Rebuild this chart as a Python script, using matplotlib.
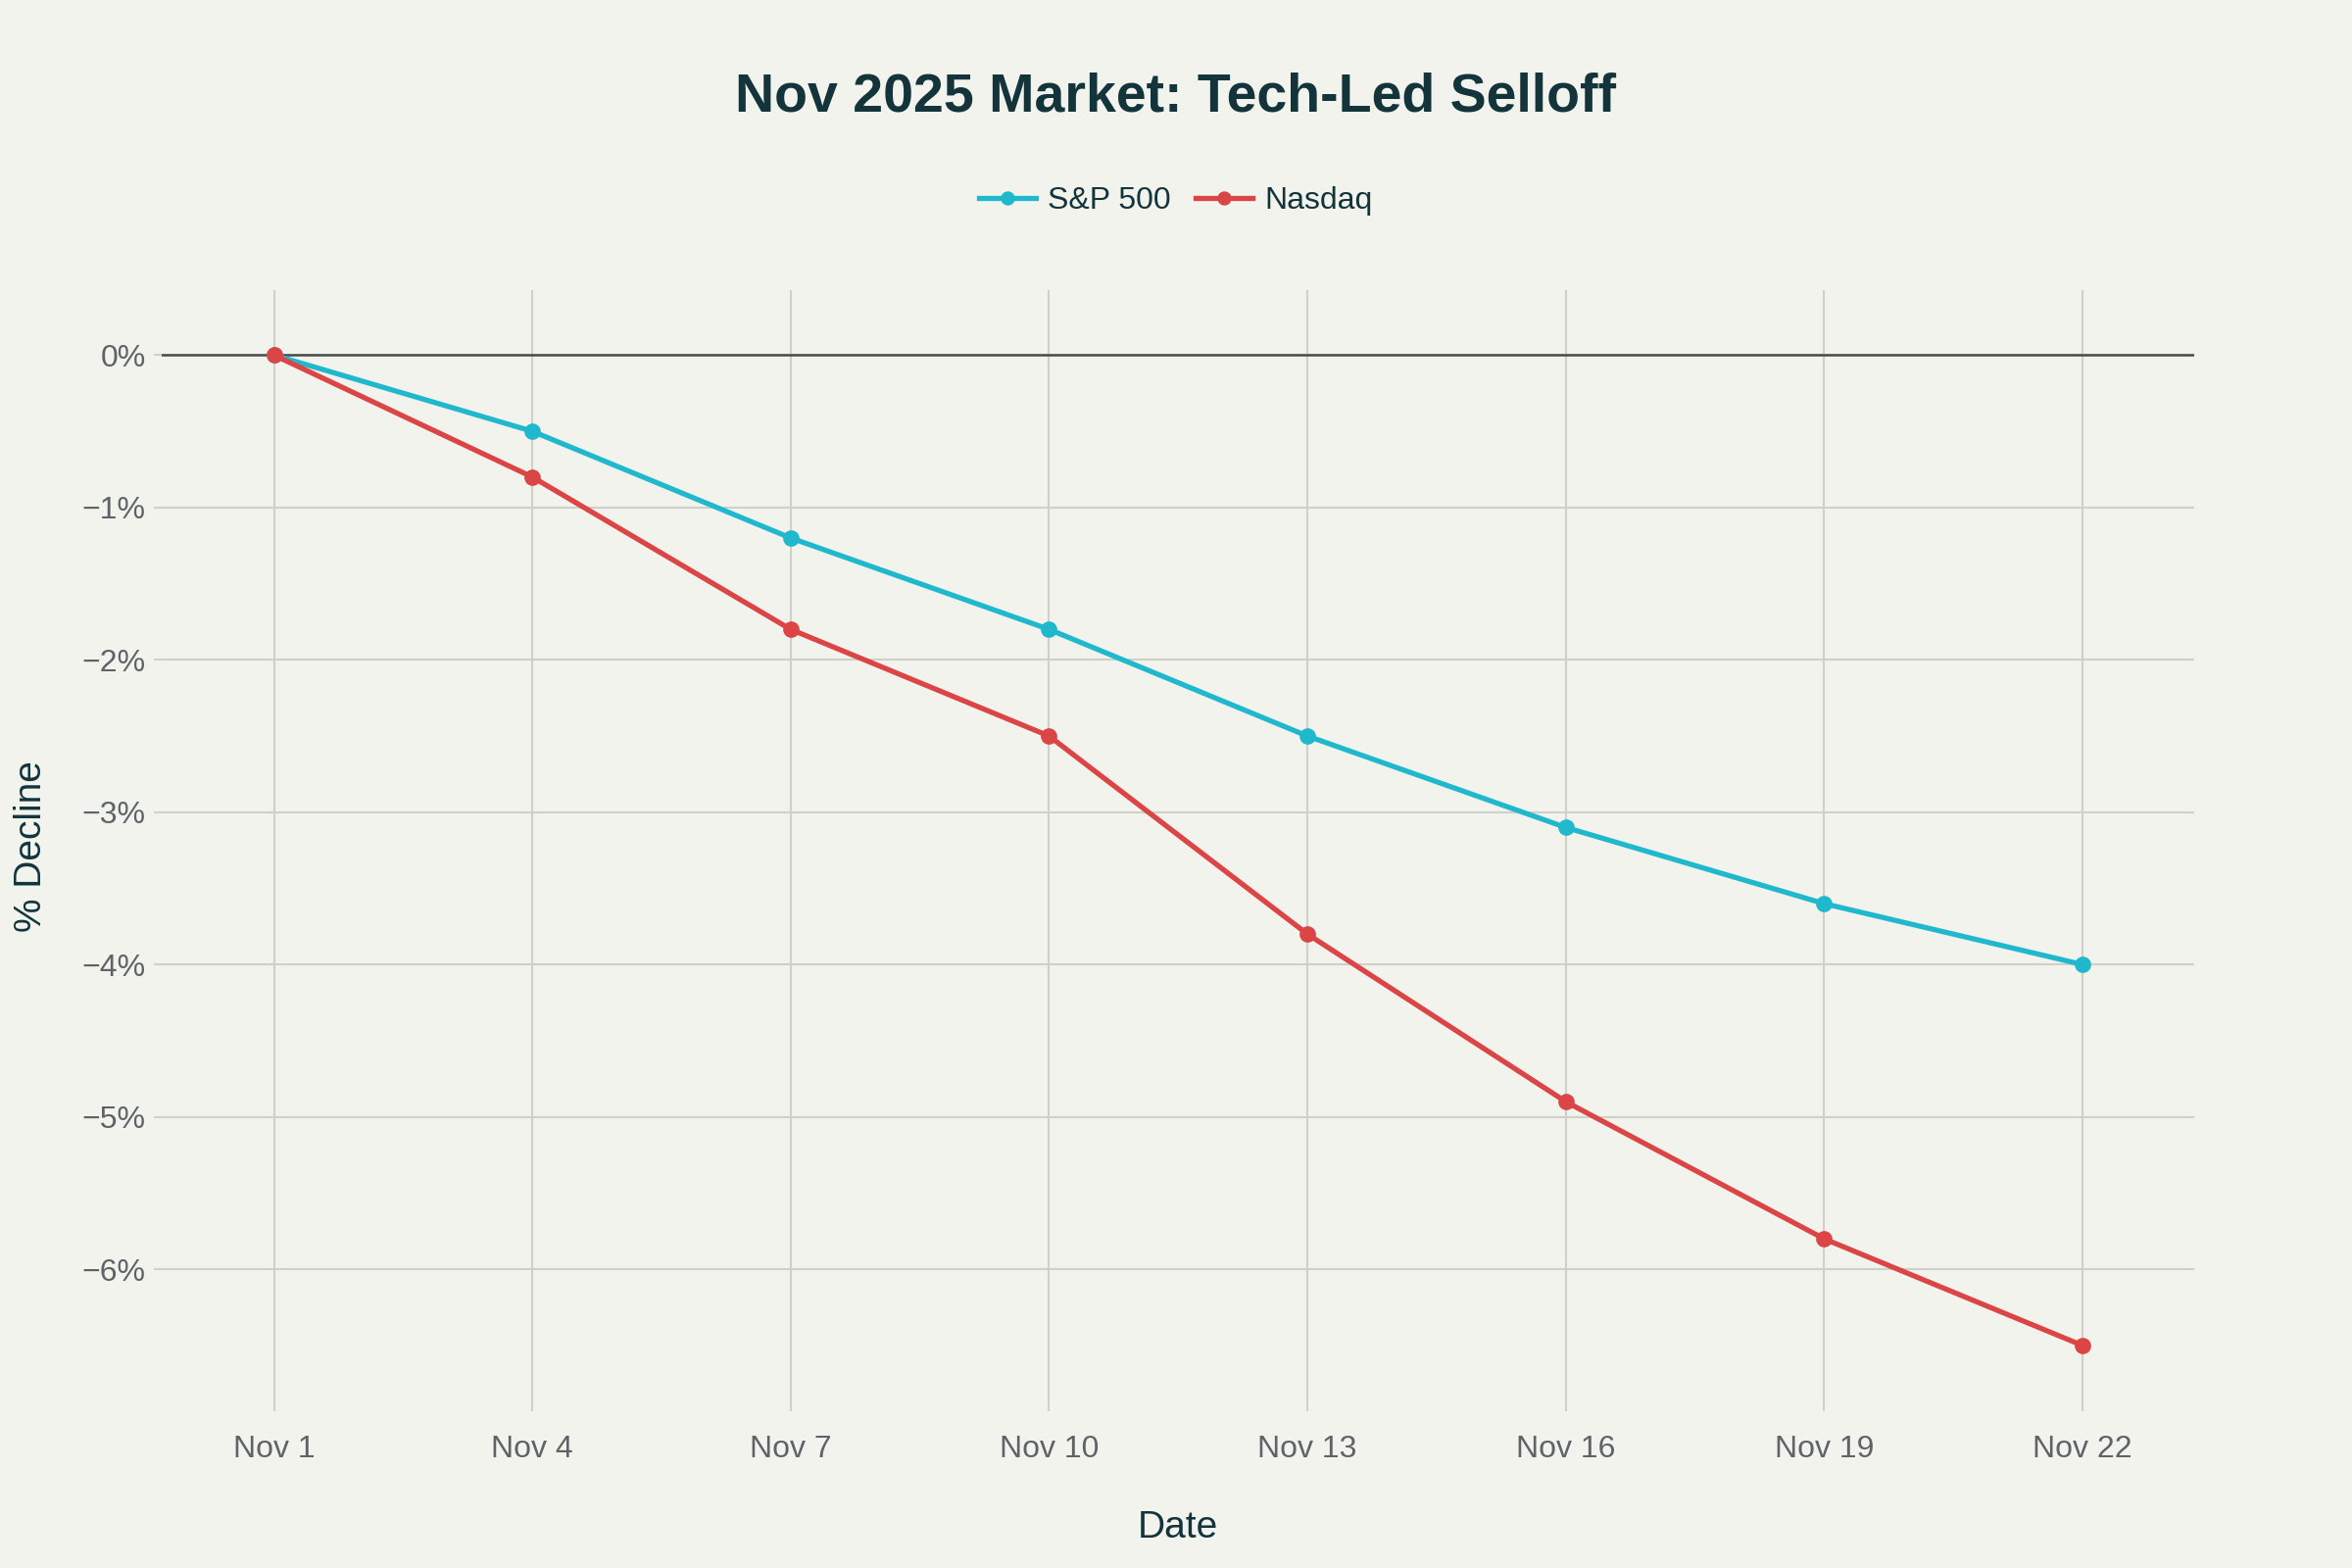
import matplotlib
matplotlib.use("Agg")
import matplotlib.pyplot as plt
from matplotlib.ticker import FuncFormatter

days = [1, 4, 7, 10, 13, 16, 19, 22]
tick_labels = ["Nov 1", "Nov 4", "Nov 7", "Nov 10", "Nov 13", "Nov 16", "Nov 19", "Nov 22"]
sp500 = [0.0, -0.5, -1.2, -1.8, -2.5, -3.1, -3.6, -4.0]
nasdaq = [0.0, -0.8, -1.8, -2.5, -3.8, -4.9, -5.8, -6.5]
y_ticks = [0, -1, -2, -3, -4, -5, -6]

BG = "#F3F3EE"
TEAL = "#1FB8CD"
RED = "#DB4545"
DARK = "#13343B"
GRAY = "#5F6368"

plt.rcParams['font.family'] = ['Liberation Sans', 'DejaVu Sans']

fig = plt.figure(figsize=(24, 16), dpi=100, facecolor=BG)
ax = fig.add_axes([0.0689, 0.105, 0.933 - 0.0689, 0.8153 - 0.105])
ax.set_facecolor(BG)

ax.plot(days, sp500, color=TEAL, lw=3.8, marker="o", ms=11, label="S&P 500", zorder=4)
ax.plot(days, nasdaq, color=RED, lw=3.8, marker="o", ms=11, label="Nasdaq", zorder=5)

ax.set_xlim(-0.3, 23.3)
ax.set_ylim(-6.88, 0.43)
ax.set_xticks(days)
ax.set_xticklabels(tick_labels)
ax.set_yticks(y_ticks)
ax.yaxis.set_major_formatter(FuncFormatter(lambda v, p: ("0%" if v == 0 else f"\u2212{abs(int(round(v)))}%")))

ax.grid(True, color="#D0D0CB", lw=1.5)
ax.axhline(0, color="#4A4A4A", lw=1.8, zorder=3)
for s in ax.spines.values():
    s.set_visible(False)
ax.tick_params(axis="both", colors="#D0D0CC", length=6, width=1.5, labelsize=23, labelcolor=GRAY)
ax.tick_params(axis="y", pad=6)
ax.tick_params(axis="x", pad=17)

ax.set_xlabel("Date", fontsize=28, color=DARK, labelpad=34)
ax.set_ylabel("% Decline", fontsize=28, color=DARK, labelpad=24)

fig.text(0.5, 0.938, "Nov 2025 Market: Tech-Led Selloff", ha="center", va="center",
         fontsize=40, fontweight="bold", color=DARK)

leg = fig.legend(loc="center", bbox_to_anchor=(0.5, 0.872), ncol=2, frameon=False,
                 fontsize=23, handlelength=1.8, handletextpad=0.4, columnspacing=0.8, markerscale=0.85)
for t in leg.get_texts():
    t.set_color(DARK)

fig.savefig("out.png", dpi=100, facecolor=BG)
